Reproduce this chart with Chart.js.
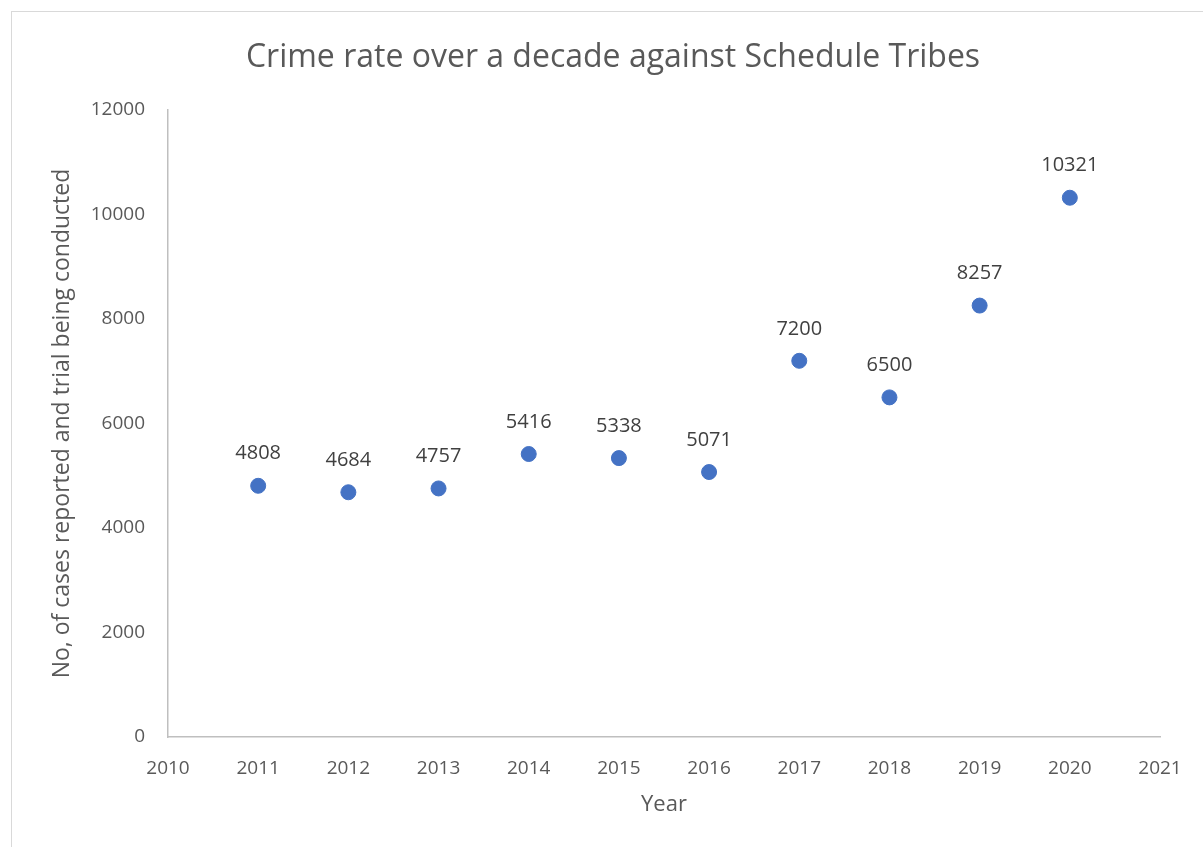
<!DOCTYPE html>
<html>
<head>
<meta charset="utf-8">
<script src="https://cdn.jsdelivr.net/npm/chart.js@4/dist/chart.umd.min.js"></script>
<style>
    html, body { margin: 0; padding: 0; background: #fff; }
    #wrap { position: relative; width: 1203px; height: 847px; overflow: hidden; }
    #frame { position: absolute; left: 11px; top: 11px; width: 1220px; height: 870px; border: 1px solid #d9d9d9; }
    canvas { position: absolute; left: 0; top: 0; }
</style>
</head>
<body>
<div id="wrap">
    <div id="frame"></div>
    <canvas id="chart" width="1203" height="847"></canvas>
</div>
<script>
// chart data
const years = [2011, 2012, 2013, 2014, 2015, 2016, 2017, 2018, 2019, 2020];
const cases = [4808, 4684, 4757, 5416, 5338, 5071, 7200, 6500, 8257, 10321];
const xRange = [2010, 2021];
const yRange = [0, 12000];
const chartTitle = 'Crime rate over a decade against Schedule Tribes';

const textFont = "'Open Sans', 'Liberation Sans', sans-serif";

// title drawn over the whole frame (Excel centres it on the chart box, not the plot)
const frameTitle = {
    id: 'frameTitle',
    afterDraw(chart) {
        const ctx = chart.ctx;
        ctx.save();
        ctx.font = '32px ' + textFont;
        ctx.fillStyle = '#595959';
        ctx.textAlign = 'center';
        ctx.textBaseline = 'middle';
        ctx.fillText(chartTitle, 613, 58);
        ctx.restore();
    }
};

// value labels above each point
const pointLabels = {
    id: 'pointLabels',
    afterDatasetsDraw(chart) {
        const ctx = chart.ctx;
        const meta = chart.getDatasetMeta(0);
        ctx.save();
        ctx.font = '20px ' + textFont;
        ctx.fillStyle = '#404040';
        ctx.textAlign = 'center';
        ctx.textBaseline = 'middle';
        meta.data.forEach((pt, i) => {
            ctx.fillText(String(cases[i]), pt.x, pt.y - 32);
        });
        ctx.restore();
    }
};

new Chart(document.getElementById('chart'), {
    type: 'scatter',
    data: {
        datasets: [{
            data: years.map((y, i) => ({ x: y, y: cases[i] })),
            backgroundColor: '#4472c4',
            borderColor: '#4472c4',
            pointRadius: 7.5,
            pointHoverRadius: 7.5
        }]
    },
    options: {
        responsive: false,
        animation: false,
        layout: { padding: { top: 110, right: 43, bottom: 0, left: 0 } },
        plugins: {
            legend: { display: false },
            tooltip: { enabled: false },
            title: { display: false }
        },
        scales: {
            x: {
                type: 'linear',
                min: xRange[0],
                max: xRange[1],
                afterFit(scale) { scale.height = 110; },
                grid: { display: false, drawTicks: false },
                border: { color: '#bfbfbf', width: 1.5 },
                ticks: {
                    stepSize: 1,
                    padding: 20,
                    color: '#595959',
                    font: { family: textFont, size: 19 },
                    callback: v => String(v)
                },
                title: {
                    display: true,
                    text: 'Year',
                    color: '#595959',
                    font: { family: textFont, size: 22 },
                    padding: { top: 0, bottom: 29 }
                }
            },
            y: {
                min: yRange[0],
                max: yRange[1],
                afterFit(scale) { scale.width = 168; },
                grid: { display: false, drawTicks: false },
                border: { color: '#bfbfbf', width: 1.5 },
                ticks: {
                    stepSize: 2000,
                    padding: 23,
                    color: '#595959',
                    font: { family: textFont, size: 19 },
                    callback: v => String(v)
                },
                title: {
                    display: true,
                    text: 'No, of cases reported and trial being conducted',
                    color: '#595959',
                    font: { family: textFont, size: 23 },
                    padding: { top: 49, bottom: 0 }
                }
            }
        }
    },
    plugins: [pointLabels, frameTitle]
});
</script>
</body>
</html>
